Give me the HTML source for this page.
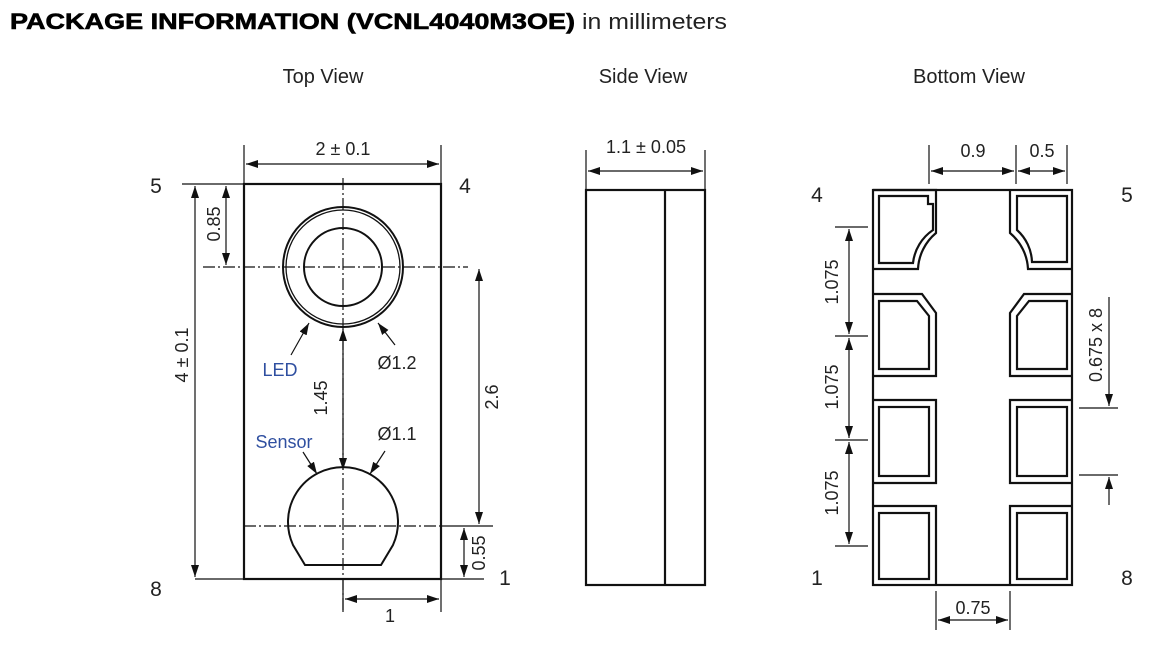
<!DOCTYPE html>
<html><head><meta charset="utf-8"><style>
html,body{margin:0;padding:0;background:#fff;}
svg{display:block;}
text{font-family:"Liberation Sans",Arial,sans-serif;fill:#222;}
</style></head><body>
<svg width="1169" height="648" viewBox="0 0 1169 648" xmlns="http://www.w3.org/2000/svg">
<defs>
<marker id="a" viewBox="0 0 12 8" refX="12" refY="4" markerWidth="12" markerHeight="8" markerUnits="userSpaceOnUse" orient="auto-start-reverse"><path d="M0,0 L12,4 L0,8 Z" fill="#111"/></marker>
</defs>
<text x="10" y="29" font-size="22" font-weight="bold" textLength="565" lengthAdjust="spacingAndGlyphs" style="fill:#000;stroke:#000;stroke-width:0.6">PACKAGE INFORMATION (VCNL4040M3OE)</text>
<text x="582" y="29" font-size="22" textLength="145" lengthAdjust="spacingAndGlyphs">in millimeters</text>
<text x="323" y="83" font-size="20" text-anchor="middle">Top View</text>
<text x="643" y="83" font-size="20" text-anchor="middle">Side View</text>
<text x="969" y="83" font-size="20" text-anchor="middle">Bottom View</text>

<g stroke="#111" fill="none" stroke-width="1.2">
<!-- TOP VIEW -->
<rect x="244" y="184" width="197" height="395" stroke-width="2.2"/>
<line x1="244" y1="145" x2="244" y2="184"/><line x1="441" y1="145" x2="441" y2="184"/>
<line x1="246" y1="164" x2="439" y2="164" marker-start="url(#a)" marker-end="url(#a)"/>
<line x1="182" y1="184" x2="244" y2="184"/><line x1="195" y1="579" x2="244" y2="579"/>
<line x1="195" y1="186" x2="195" y2="577" marker-start="url(#a)" marker-end="url(#a)"/>
<line x1="226" y1="186" x2="226" y2="265" marker-start="url(#a)" marker-end="url(#a)"/>
<line x1="203" y1="267" x2="468" y2="267" stroke-dasharray="12,3,2,3"/>
<line x1="343" y1="178" x2="343" y2="612" stroke-dasharray="12,3,2,3"/>
<line x1="244" y1="526" x2="441" y2="526" stroke-dasharray="12,3,2,3"/>
<line x1="441" y1="526" x2="493" y2="526"/>
<line x1="441" y1="579" x2="484" y2="579"/>
<line x1="479" y1="269" x2="479" y2="524" marker-start="url(#a)" marker-end="url(#a)"/>
<line x1="464" y1="528" x2="464" y2="577" marker-start="url(#a)" marker-end="url(#a)"/>
<line x1="343" y1="579" x2="343" y2="612"/><line x1="441" y1="579" x2="441" y2="612"/>
<line x1="345" y1="599" x2="439" y2="599" marker-start="url(#a)" marker-end="url(#a)"/>
<circle cx="343" cy="267" r="60" stroke-width="2"/>
<circle cx="343" cy="267" r="57" stroke-width="1.3"/>
<circle cx="343" cy="267" r="39" stroke-width="2"/>
<path d="M305,565 L381,565 L393,545 A55,55 0 1 0 293,545 Z" stroke-width="2"/>
<line x1="343" y1="329" x2="343" y2="470" marker-start="url(#a)" marker-end="url(#a)"/>
<line x1="291" y1="355" x2="309" y2="323" marker-end="url(#a)"/>
<line x1="395" y1="345" x2="378" y2="323" marker-end="url(#a)"/>
<line x1="303" y1="452" x2="317" y2="474" marker-end="url(#a)"/>
<line x1="385" y1="451" x2="370" y2="474" marker-end="url(#a)"/>

<!-- SIDE VIEW -->
<rect x="586" y="190" width="119" height="395" stroke-width="2.2"/>
<line x1="665" y1="190" x2="665" y2="585" stroke-width="2.2"/>
<line x1="586" y1="150" x2="586" y2="190"/><line x1="705" y1="150" x2="705" y2="190"/>
<line x1="588" y1="171" x2="703" y2="171" marker-start="url(#a)" marker-end="url(#a)"/>

<!-- BOTTOM VIEW -->
<rect x="873" y="190" width="199" height="395" stroke-width="2.2"/>
<g stroke-width="2.2">
<path d="M873,190 H936 V233 A50,50 0 0 0 918,269 H873"/>
<path d="M879,196 H928 V204 H933 V230 A46,46 0 0 0 913,263 H879 Z"/>
<path d="M1010,190 V233 A50,50 0 0 1 1028,269 H1072"/>
<path d="M1017,196 H1067 V262 H1032 A45,45 0 0 0 1017,230 Z"/>
<path d="M873,294 H922 L936,313 V376 H873"/>
<path d="M879,301 H917 L929,316 V369 H879 Z"/>
<path d="M1072,294 H1024 L1010,313 V376 H1072"/>
<path d="M1067,301 H1029 L1017,316 V369 H1067 Z"/>
<path d="M873,400 H936 V483 H873"/>
<rect x="879" y="407" width="50" height="69"/>
<path d="M1072,400 H1010 V483 H1072"/>
<rect x="1017" y="407" width="50" height="69"/>
<path d="M873,506 H936 V585"/>
<rect x="879" y="513" width="50" height="66"/>
<path d="M1072,506 H1010 V585"/>
<rect x="1017" y="513" width="50" height="66"/>
</g>
<line x1="929" y1="145" x2="929" y2="184"/><line x1="1016" y1="145" x2="1016" y2="184"/><line x1="1067" y1="145" x2="1067" y2="184"/>
<line x1="931" y1="171" x2="1014" y2="171" marker-start="url(#a)" marker-end="url(#a)"/>
<line x1="1018" y1="171" x2="1065" y2="171" marker-start="url(#a)" marker-end="url(#a)"/>
<line x1="936" y1="591" x2="936" y2="630"/><line x1="1010" y1="591" x2="1010" y2="630"/>
<line x1="938" y1="620" x2="1008" y2="620" marker-start="url(#a)" marker-end="url(#a)"/>
<line x1="835" y1="227" x2="868" y2="227"/><line x1="835" y1="336" x2="868" y2="336"/>
<line x1="835" y1="440" x2="868" y2="440"/><line x1="835" y1="546" x2="868" y2="546"/>
<line x1="849" y1="229" x2="849" y2="334" marker-start="url(#a)" marker-end="url(#a)"/>
<line x1="849" y1="338" x2="849" y2="438" marker-start="url(#a)" marker-end="url(#a)"/>
<line x1="849" y1="442" x2="849" y2="544" marker-start="url(#a)" marker-end="url(#a)"/>
<line x1="1079" y1="408" x2="1118" y2="408"/><line x1="1079" y1="475" x2="1118" y2="475"/>
<line x1="1109" y1="297" x2="1109" y2="406" marker-end="url(#a)"/>
<line x1="1109" y1="505" x2="1109" y2="477" marker-end="url(#a)"/>
</g>

<g font-size="18">
<text x="343" y="155" text-anchor="middle">2 ± 0.1</text>
<text x="156" y="193" text-anchor="middle" font-size="21">5</text>
<text x="465" y="193" text-anchor="middle" font-size="21">4</text>
<text x="156" y="596" text-anchor="middle" font-size="21">8</text>
<text x="505" y="585" text-anchor="middle" font-size="21">1</text>
<text x="390" y="622" text-anchor="middle">1</text>
<text transform="translate(188,355) rotate(-90)" text-anchor="middle">4 ± 0.1</text>
<text transform="translate(220,224) rotate(-90)" text-anchor="middle">0.85</text>
<text transform="translate(498,397) rotate(-90)" text-anchor="middle">2.6</text>
<text transform="translate(485,553) rotate(-90)" text-anchor="middle">0.55</text>
<text transform="translate(327,398) rotate(-90)" text-anchor="middle">1.45</text>
<text x="280" y="376" text-anchor="middle" style="fill:#2f4fa0">LED</text>
<text x="397" y="369" text-anchor="middle">Ø1.2</text>
<text x="284" y="448" text-anchor="middle" style="fill:#2f4fa0">Sensor</text>
<text x="397" y="440" text-anchor="middle">Ø1.1</text>
<text x="646" y="153" text-anchor="middle">1.1 ± 0.05</text>
<text x="973" y="157" text-anchor="middle">0.9</text>
<text x="1042" y="157" text-anchor="middle">0.5</text>
<text x="973" y="614" text-anchor="middle">0.75</text>
<text x="817" y="202" text-anchor="middle" font-size="21">4</text>
<text x="1127" y="202" text-anchor="middle" font-size="21">5</text>
<text x="817" y="585" text-anchor="middle" font-size="21">1</text>
<text x="1127" y="585" text-anchor="middle" font-size="21">8</text>
<text transform="translate(838,282) rotate(-90)" text-anchor="middle">1.075</text>
<text transform="translate(838,387) rotate(-90)" text-anchor="middle">1.075</text>
<text transform="translate(838,493) rotate(-90)" text-anchor="middle">1.075</text>
<text transform="translate(1102,345) rotate(-90)" text-anchor="middle">0.675 x 8</text>
</g>
</svg>
</body></html>
